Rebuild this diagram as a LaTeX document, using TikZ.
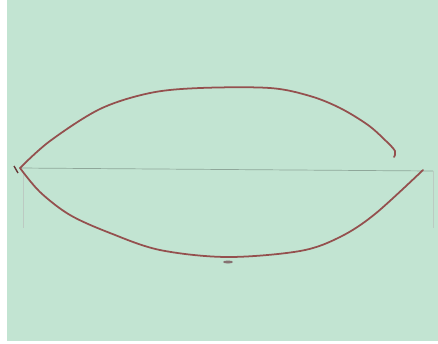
\documentclass[tikz,border=0pt]{standalone}
\usepackage{xcolor}
\definecolor{boardgreen}{HTML}{C2E4D2}
\definecolor{penred}{HTML}{94504E}
\definecolor{guidegrey}{HTML}{8FA79A}
\usetikzlibrary{positioning}

\begin{document}
\begin{tikzpicture}[
    x=0.02cm, y=-0.02cm,
    pen/.style={draw=penred, line width=1pt, line cap=round, line join=round},
    guide/.style={draw=guidegrey, line width=0.4pt},
    faint/.style={draw=guidegrey!60, line width=0.3pt},
]

% Board
\useasboundingbox (0,0) rectangle (438,343);
\fill[white] (0,0) rectangle (438,343);
\fill[boardgreen] (7,0) rectangle (438,341);

% Tips of the lens
\coordinate (tipL) at (20,168);
\coordinate (tipR) at (423,170);
\coordinate (hook) at (394,157);

% Guide lines
\draw[guide] (tipL) -- (433,171);
\draw[faint] (23,171) -- (23,228);
\draw[faint] (433,171) -- (433,228);

% Upper arc
\draw[pen] plot[smooth, tension=0.55] coordinates {
    (20,168) (50,141) (100,109) (150,93) (200,88) (270,88)
    (310,96) (340,108) (368,125) (386,141) (395,151) (394,157)};

% Lower arc
\draw[pen] plot[smooth, tension=0.55] coordinates {
    (20,168) (40,192) (70,215) (110,233) (160,250) (227,257)
    (300,251) (340,237) (375,214) (423,170)};

% Marks
\draw[penred!70!black, line width=0.8pt] (14,166) -- (18,173);
\fill[penred!30!gray] (228,262) ellipse (5 and 1.5);

\end{tikzpicture}
\end{document}
